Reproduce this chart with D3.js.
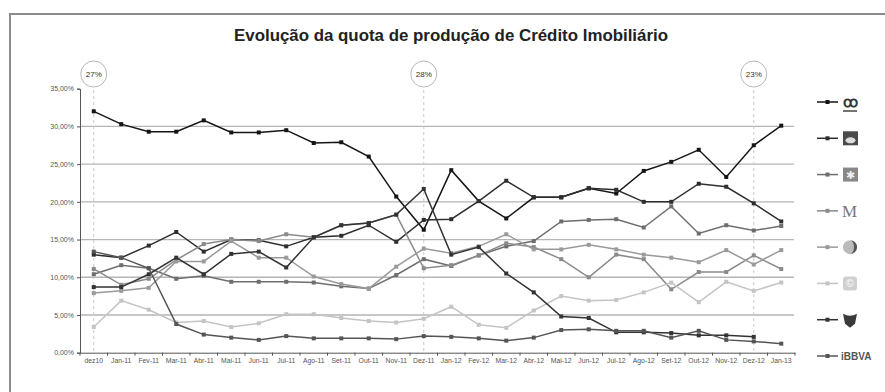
<!DOCTYPE html>
<html><head><meta charset="utf-8">
<script src="https://cdn.jsdelivr.net/npm/d3@7"></script>
<style>body{margin:0;background:#fff}svg{display:block;font-family:"Liberation Sans",Arial,sans-serif}</style>
</head><body><svg id="c" width="885" height="392"></svg>
<script>
const months = ["dez10","Jan-11","Fev-11","Mar-11","Abr-11","Mai-11","Jun-11","Jul-11","Ago-11","Set-11","Out-11","Nov-11","Dez-11","Jan-12","Fev-12","Mar-12","Abr-12","Mai-12","Jun-12","Jul-12","Ago-12","Set-12","Out-12","Nov-12","Dez-12","Jan-13"];
const yTicks = [0,5,10,15,20,25,30,35];
const cgd = [32.0,30.3,29.3,29.3,30.8,29.2,29.2,29.5,27.8,27.9,26.0,20.7,16.3,24.2,20.1,17.8,20.6,20.6,21.8,21.1,24.1,25.3,26.9,23.3,27.5,30.1];
const bcp = [13.0,12.6,14.2,16.0,13.4,15.0,14.9,14.1,15.3,15.5,16.9,14.7,17.6,17.7,20.1,22.8,20.6,20.6,21.8,21.6,20.0,20.0,22.4,22.0,19.8,17.4];
const santander = [10.4,11.6,11.2,9.8,10.2,9.4,9.4,9.4,9.3,8.8,8.5,10.3,12.4,11.5,12.9,14.1,14.8,17.4,17.6,17.7,16.6,19.4,15.8,16.9,16.2,16.8];
const montepio = [11.1,9.0,9.8,12.3,14.4,15.0,14.8,15.7,15.3,16.9,17.2,18.3,11.2,11.6,12.9,14.5,14.0,12.4,10.0,13.0,12.4,8.4,10.7,10.7,12.9,11.1];
const bes = [7.9,8.2,8.6,12.1,12.1,14.8,12.6,12.6,10.1,9.1,8.5,11.4,13.8,13.2,14.1,15.7,13.7,13.7,14.3,13.7,13.0,12.6,12.0,13.6,11.7,13.6];
const bpi = [3.4,6.9,5.7,4.0,4.2,3.4,3.9,5.1,5.1,4.6,4.2,4.0,4.5,6.1,3.7,3.3,5.6,7.5,6.9,7.0,8.0,9.3,6.7,9.4,8.2,9.3];
const barclays = [8.7,8.7,10.4,12.6,10.4,13.1,13.4,11.3,15.3,16.9,17.2,18.3,21.7,13.0,14.0,10.5,8.0,4.8,4.6,2.7,2.7,2.6,2.3,2.3,2.1,null];
const bbva = [13.4,12.6,11.2,3.8,2.4,2.0,1.7,2.2,1.9,1.9,1.9,1.8,2.2,2.1,1.9,1.6,2.0,3.0,3.1,2.9,2.9,2.0,2.9,1.7,1.5,1.2];
const seriesNames = ["CGD","Millennium bcp","Santander Totta","Montepio","BES","BPI","Barclays","BBVA"];
const seriesColors = ["#151515","#2e2e2e","#6e6e6e","#8a8a8a","#9a9a9a","#c4c4c4","#333333","#555555"];
const seriesData = [cgd,bcp,santander,montepio,bes,bpi,barclays,bbva];
const markers = [{i:0,label:"27%"},{i:12,label:"28%"},{i:24,label:"23%"}];
const title = "Evolução da quota de produção de Crédito Imobiliário";

const svg = d3.select("#c");
svg.append("rect").attr("x",10).attr("y",14).attr("width",900).attr("height",400)
  .attr("fill","none").attr("stroke","#8c8c8c").attr("stroke-width",2);

const x = d3.scaleBand().domain(months).range([80,795]);
const y = d3.scaleLinear().domain([0,35]).range([352.7,88.7]);
const cx = m => x(m)+x.bandwidth()/2;

svg.append("text").attr("x",451).attr("y",41).attr("text-anchor","middle")
  .attr("font-size",16.5).attr("font-weight","bold").attr("fill","#222")
  .attr("textLength",434).attr("lengthAdjust","spacingAndGlyphs").text(title);

svg.append("g").selectAll("line").data(yTicks.filter(t=>t>0&&t<35)).join("line")
  .attr("x1",80).attr("x2",794).attr("y1",d=>y(d)).attr("y2",d=>y(d))
  .attr("stroke","#b5b5b5").attr("stroke-width",1.3);

markers.forEach(m=>{
  const xx = cx(months[m.i]);
  svg.append("line").attr("x1",xx).attr("x2",xx).attr("y1",90).attr("y2",352.7)
    .attr("stroke","#c8c8c8").attr("stroke-dasharray","3,3").attr("stroke-width",1);
  svg.append("ellipse").attr("cx",xx).attr("cy",74).attr("rx",13).attr("ry",13)
    .attr("fill","#fff").attr("stroke","#b8b8b8").attr("stroke-width",1);
  svg.append("text").attr("x",xx).attr("y",77).attr("text-anchor","middle")
    .attr("font-size",8).attr("fill","#333").text(m.label);
});

const yAxis = d3.axisLeft(y).tickValues(yTicks).tickSize(3)
  .tickFormat(d=>d3.format(".2f")(d).replace(".",",")+"%");
const gy = svg.append("g").attr("transform","translate(80,0)").call(yAxis);
gy.selectAll("text").attr("font-size",7).attr("fill","#555");
gy.selectAll("path,line").attr("stroke","#555");

const xAxis = d3.axisBottom(x).tickSize(0).tickPadding(5);
const gx = svg.append("g").attr("transform","translate(0,352.7)").call(xAxis);
gx.selectAll("text").attr("font-size",6.8).attr("fill","#555");
gx.select("path").attr("stroke","#555");
gx.append("g").selectAll("line").data(months.concat(["_end"])).join("line")
  .attr("x1",(d,i)=>80+i*x.bandwidth()).attr("x2",(d,i)=>80+i*x.bandwidth())
  .attr("y1",0).attr("y2",3).attr("stroke","#555");

const line = d3.line().defined(d=>d!=null).x((d,i)=>cx(months[i])).y(d=>y(d));
seriesData.forEach((s,k)=>{
  const col = seriesColors[k];
  svg.append("path").datum(s).attr("d",line).attr("fill","none")
    .attr("stroke",col).attr("stroke-width",1.5);
  svg.append("g").selectAll("rect").data(s.map((v,i)=>({v,i})).filter(d=>d.v!=null)).join("rect")
    .attr("x",d=>cx(months[d.i])-2).attr("y",d=>y(d.v)-2).attr("width",4).attr("height",4)
    .attr("fill",col);
});

const ly = d3.scalePoint().domain(seriesNames).range([102,356]);
seriesNames.forEach((n,k)=>{
  const yy = ly(n), col = seriesColors[k];
  const g = svg.append("g");
  g.append("line").attr("x1",817).attr("x2",838).attr("y1",yy).attr("y2",yy).attr("stroke",col).attr("stroke-width",1.5);
  g.append("rect").attr("x",825.5).attr("y",yy-2).attr("width",4).attr("height",4).attr("fill",col);
  if(k===0){
    g.append("text").attr("x",850).attr("y",yy+5).attr("text-anchor","middle").attr("font-size",15).attr("font-weight","bold").attr("fill","#333").text("ꝏ");
    g.append("line").attr("x1",843).attr("x2",857).attr("y1",yy+9).attr("y2",yy+9).attr("stroke","#444").attr("stroke-width",1.5);
  } else if(k===1){
    g.append("rect").attr("x",843).attr("y",yy-7).attr("width",15).attr("height",14).attr("fill","#4a4a4a");
    g.append("ellipse").attr("cx",850.5).attr("cy",yy+2).attr("rx",5).attr("ry",3).attr("fill","#ddd");
  } else if(k===2){
    g.append("rect").attr("x",843).attr("y",yy-7).attr("width",15).attr("height",14).attr("fill","#888");
    g.append("text").attr("x",850.5).attr("y",yy+4).attr("text-anchor","middle").attr("font-size",11).attr("fill","#eee").text("✱");
  } else if(k===3){
    g.append("text").attr("x",842).attr("y",yy+6).attr("font-size",17).attr("font-family","Liberation Serif").attr("fill","#777").text("M");
  } else if(k===4){
    g.append("circle").attr("cx",850).attr("cy",yy).attr("r",7).attr("fill","#bbb");
    g.append("path").attr("d",`M${850},${yy-7} A7,7 0 0 1 ${850},${yy+7} A4,7 0 0 0 ${850},${yy-7}`).attr("fill","#555");
  } else if(k===5){
    g.append("rect").attr("x",843).attr("y",yy-7).attr("width",14).attr("height",14).attr("rx",3).attr("fill","#d0d0d0");
    g.append("text").attr("x",850).attr("y",yy+4).attr("text-anchor","middle").attr("font-size",10).attr("fill","#fff").text("©");
  } else if(k===6){
    g.append("path").attr("d",`M${843},${yy-6} Q${850},${yy-2} ${857},${yy-6} L${855},${yy+4} L${850},${yy+8} L${845},${yy+4} Z`).attr("fill","#3a3a3a");
  } else {
    g.append("text").attr("x",841).attr("y",yy+4).attr("font-size",10).attr("font-weight","bold").attr("fill","#555").text("iBBVA");
  }
});
</script></body></html>
